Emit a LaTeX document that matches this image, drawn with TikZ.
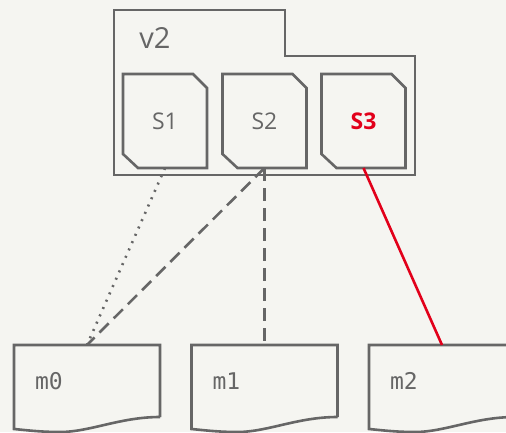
\documentclass[tikz,border=0pt]{standalone}
\usepackage{fontspec}
\setmainfont{Open Sans}
\newfontfamily\monofam{DejaVu Sans Mono}
\definecolor{bgc}{HTML}{F5F5F1}
\definecolor{gline}{HTML}{666666}
\definecolor{redc}{HTML}{E2001A}
\begin{document}
\begin{tikzpicture}[x=1pt,y=-1pt,
  outline/.style={draw=gline,line width=2.6pt,line join=miter},
  sbox/.style={minimum width=84pt,minimum height=94pt,inner sep=0pt,outer sep=0pt,
    font=\fontsize{23}{27}\selectfont,text=gline},
  mbox/.style={minimum height=72pt,inner xsep=21pt,inner ysep=0pt,outer sep=0pt,
    text width=104pt,align=left,font=\monofam\fontsize{23}{27}\selectfont,text=gline},
  folderbox/.style={minimum width=301pt,minimum height=165pt,inner sep=0pt,outer sep=0pt},
  dotline/.style={draw=gline,line width=2.6pt,dash pattern=on 2pt off 6pt},
  dashline/.style={draw=gline,line width=2.6pt,dash pattern=on 13pt off 7pt},
  redline/.style={draw=redc,line width=2.6pt}]
\fill[bgc] (0,0) rectangle (506,432);
\clip (0,0) rectangle (506,432);
% folder v2
\node[folderbox] (fold) at (264.5,92.5) {};
\draw[outline] (fold.north west) -- ([xshift=171pt]fold.north west) -- ([xshift=171pt,yshift=-46pt]fold.north west)
  -- ([yshift=-46pt]fold.north east) -- (fold.south east) -- (fold.south west) -- cycle;
\node[font=\fontsize{29}{32}\selectfont,text=gline] (v2) at (155,38) {v2};
% S boxes
\node[sbox] (s1) at (165,121) {S1};
\node[sbox] (s2) at (264.5,121) {S2};
\node[sbox,text=redc,font=\bfseries\fontsize{23}{27}\selectfont] (s3) at (363.5,121) {S3};
\foreach \n in {s1,s2,s3}{
  \draw[outline] (\n.north west) -- ([xshift=-14pt]\n.north east) -- ([yshift=-14pt]\n.north east)
    -- (\n.south east) -- ([xshift=15pt]\n.south west) -- ([yshift=14pt]\n.south west) -- cycle;
}
% m boxes
\node[mbox] (m0) at (87,381) {m0};
\node[mbox] (m1) at (264.5,381) {m1};
\node[mbox] (m2) at (442,381) {m2};
\foreach \n in {m0,m1,m2}{
  \draw[outline] (\n.south east) -- (\n.north east) -- (\n.north west) -- ([yshift=-12pt]\n.south west)
    .. controls +(11,1) and +(-20,0) .. ++(46,3)
    .. controls +(30,0) and +(-40,0) .. (\n.south east);
}
% connectors
\draw[dotline] (s1.south) -- (m0.north);
\draw[dashline] (s2.south) -- (m0.north);
\draw[dashline] (s2.south) -- (m1.north);
\draw[redline] (s3.south) -- (m2.north);
\end{tikzpicture}
\end{document}
